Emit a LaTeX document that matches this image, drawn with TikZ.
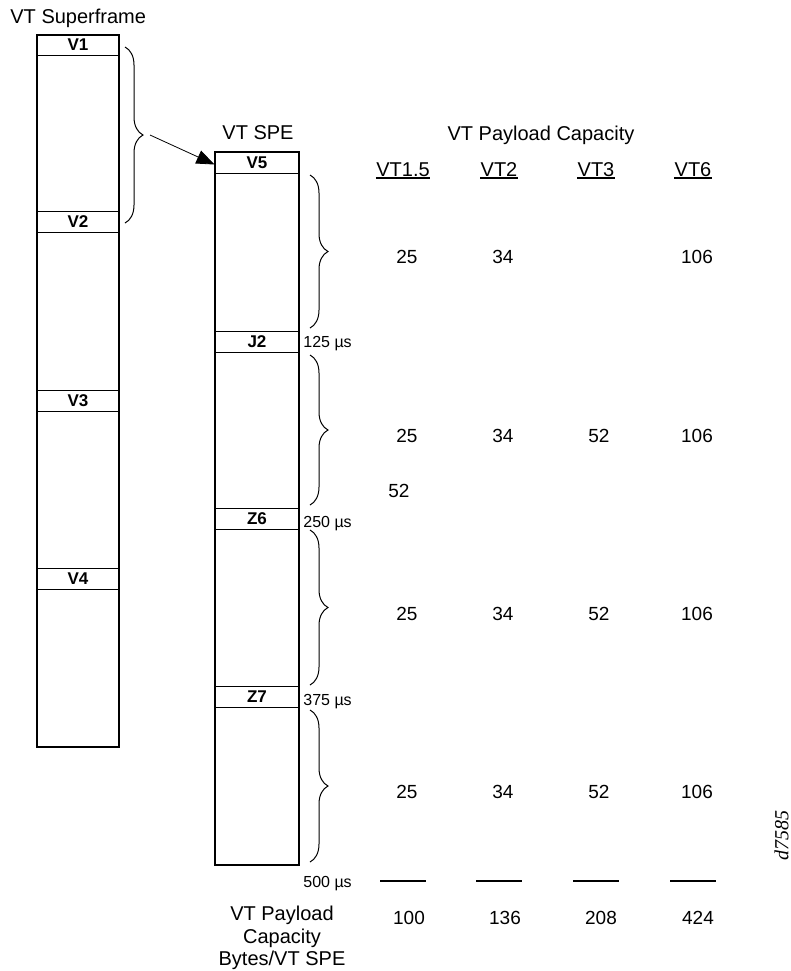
\documentclass[tikz,border=0pt]{standalone}
\usepackage{fontspec}
\setmainfont{Liberation Sans}
\newfontfamily\serifface{Liberation Serif}
\usepackage{tikz}
\usetikzlibrary{arrows.meta}
\usetikzlibrary{decorations.pathreplacing}

\begin{document}
\begin{tikzpicture}[x=0.5pt,y=-0.5pt,
  frame/.style={line width=1.3pt},
  band/.style={draw,line width=0.5pt,minimum width=41pt,minimum height=10.5pt,inner sep=0pt,font=\bfseries\fontsize{8.5}{10}\selectfont},
  curly/.style={decorate,decoration={brace,amplitude=9pt},line width=0.5pt},
  title/.style={anchor=base,inner sep=0pt,font=\fontsize{10}{12}\selectfont},
  head/.style={anchor=base,inner sep=0pt,font=\fontsize{10}{12}\selectfont},
  num/.style={anchor=base,inner sep=0pt,font=\fontsize{9.5}{11}\selectfont},
  tlabel/.style={anchor=base west,inner sep=0pt,font=\fontsize{8}{10}\selectfont},
  uline/.style={line width=1pt},
  rule/.style={line width=1pt}]
\useasboundingbox (0,0) rectangle (791,971);
\node[title,anchor=base west] (sftitle) at (10,23) {VT Superframe};
\node[title] (spetitle) at (258,139) {VT SPE};
\node[title] (captitle) at (541,140) {VT Payload Capacity};
\foreach \t/\y in {V1/45,V2/221.5,V3/400.5,V4/579}
  \node[band] (\t) at (78,\y) {\t};
\draw[frame] (37,35) rectangle (119,747);
\foreach \t/\y in {V5/162.5,J2/342,Z6/519,Z7/697}
  \node[band,minimum width=42pt] (\t) at (257,\y) {\t};
\draw[frame] (215,152) rectangle (299,865);
\draw[curly] (125,47) -- (125,223);
\coordinate (sfb) at (150,135);
\draw[-{Triangle[length=9pt,width=7pt]}] (sfb) -- ([yshift=-1pt]V5.west);
\foreach \a/\b in {175/328,355/505,530/685,710/862}
  \draw[curly] (310,\a) -- (310,\b);
\node[tlabel] (t125) at (303,347) {125 µs};
\node[tlabel] (t250) at (303,527) {250 µs};
\node[tlabel] (t375) at (303,705) {375 µs};
\node[tlabel] (t500) at (303,887) {500 µs};
\foreach \n/\x/\v in {a/403/VT1.5,b/499/VT2,c/596/VT3,d/693/VT6} {
  \node[head] (h\n) at (\x,176) {\v};
  \draw[uline] ([yshift=-1pt]h\n.base west) -- ([yshift=-1pt]h\n.base east);
  \draw[rule] (\x-23,881) -- (\x+23,881);
}
\foreach \y in {263,442,620,798} {
  \node[num] (a\y) at (407,\y) {25};
  \node[num] (b\y) at (503,\y) {34};
  \node[num] (d\y) at (697,\y) {106};
}
\foreach \y in {442,620,798}
  \node[num] (c\y) at (599,\y) {52};
\node[num] (stray) at (399,497) {52};
\node[num] (ta) at (409,924) {100};
\node[num] (tb) at (505,924) {136};
\node[num] (tc) at (601,924) {208};
\node[num] (td) at (698,924) {424};
\node[anchor=north,inner sep=0pt,align=center,font=\fontsize{10}{11.25}\selectfont] (caplabel) at (282,906)
  {VT Payload\\Capacity\\Bytes/VT SPE};
\node[rotate=90,inner sep=0pt,font=\serifface\itshape\fontsize{10}{12}\selectfont] (tag) at (781.5,835) {d7585};
\end{tikzpicture}
\end{document}
